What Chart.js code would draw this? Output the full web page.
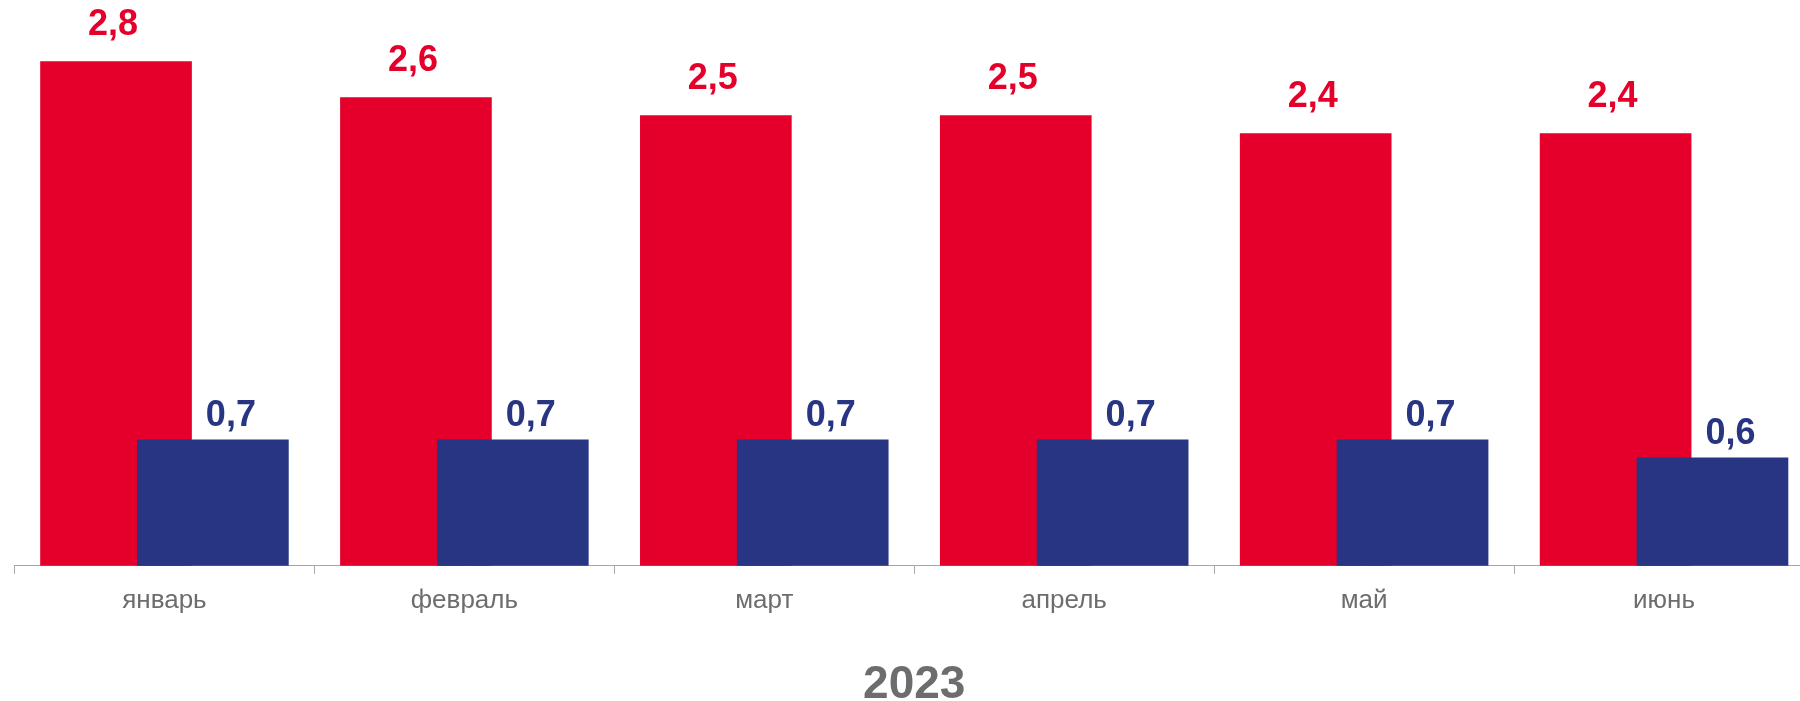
<!DOCTYPE html>
<html lang="ru">
<head>
<meta charset="utf-8">
<title>2023</title>
<script src="https://cdn.jsdelivr.net/npm/chart.js@4/dist/chart.umd.min.js"></script>
<style>
  html, body { margin: 0; padding: 0; background: #fff; overflow: hidden; }
  #wrap { position: relative; width: 1814px; height: 708px; }
</style>
</head>
<body>
<div id="wrap"><canvas id="barChart"></canvas></div>
<script>
// Chart data
const months = ['январь', 'февраль', 'март', 'апрель', 'май', 'июнь'];
const redValues = [2.8, 2.6, 2.5, 2.5, 2.4, 2.4];
const blueValues = [0.7, 0.7, 0.7, 0.7, 0.7, 0.6];
const yearTitle = '2023';

const RED = '#e4002b';
const BLUE = '#283583';
const GREY = '#6d6d6d';
const FONT = "'Liberation Sans', Arial, sans-serif";

// bars overlap inside each month, so they sit on a hidden linear axis
const shift = 0.1615;
const toPoints = (vals, dx) => vals.map((v, i) => ({ x: i + dx, y: v }));

// value labels above the bars, decimal comma
const valueLabels = {
  id: 'valueLabels',
  afterDatasetsDraw(chart) {
    const ctx = chart.ctx;
    ctx.save();
    ctx.font = 'bold 36px ' + FONT;
    ctx.textAlign = 'center';
    ctx.textBaseline = 'alphabetic';
    chart.data.datasets.forEach((ds, di) => {
      const meta = chart.getDatasetMeta(di);
      ctx.fillStyle = ds.backgroundColor;
      meta.data.forEach((bar, i) => {
        const txt = ds.data[i].y.toFixed(1).replace('.', ',');
        ctx.fillText(txt, bar.x + ds.labelDx, bar.y - ds.labelGap);
      });
    });
    ctx.restore();
  }
};

const ctx = document.getElementById('barChart').getContext('2d');
const barChart = new Chart(ctx, {
  type: 'bar',
  data: {
    labels: months,
    datasets: [
      {
        label: 'red',
        data: toPoints(redValues, -shift),
        backgroundColor: RED,
        xAxisID: 'xb',
        grouped: false,
        barThickness: 151,
        order: 1,
        labelDx: -3,
        labelGap: 27
      },
      {
        label: 'blue',
        data: toPoints(blueValues, shift),
        backgroundColor: BLUE,
        xAxisID: 'xb',
        grouped: false,
        barThickness: 151,
        order: 0,
        labelDx: 18,
        labelGap: 14
      }
    ]
  },
  options: {
    responsive: true,
    maintainAspectRatio: false,
    animation: false,
    layout: { padding: { left: 14.5, top: 25.6, right: 0, bottom: 0 } },
    plugins: {
      legend: { display: false },
      tooltip: { enabled: false }
    },
    scales: {
      x: {
        type: 'category',
        offset: true,
        grid: {
          offset: true,
          drawOnChartArea: false,
          drawTicks: true,
          tickLength: 8,
          color: '#a6a6a6'
        },
        border: { display: true, color: '#a6a6a6', width: 1 },
        ticks: {
          color: GREY,
          padding: 11,
          font: { family: FONT, size: 26 }
        },
        title: {
          display: true,
          text: yearTitle,
          color: GREY,
          font: { family: FONT, size: 46, weight: 'bold', lineHeight: 1 },
          padding: { top: 35, bottom: 0 }
        }
      },
      xb: {
        type: 'linear',
        display: false,
        offset: false,
        min: -0.5,
        max: months.length - 0.5
      },
      y: {
        display: false,
        min: 0,
        max: 3
      }
    }
  },
  plugins: [valueLabels]
});
</script>
</body>
</html>
